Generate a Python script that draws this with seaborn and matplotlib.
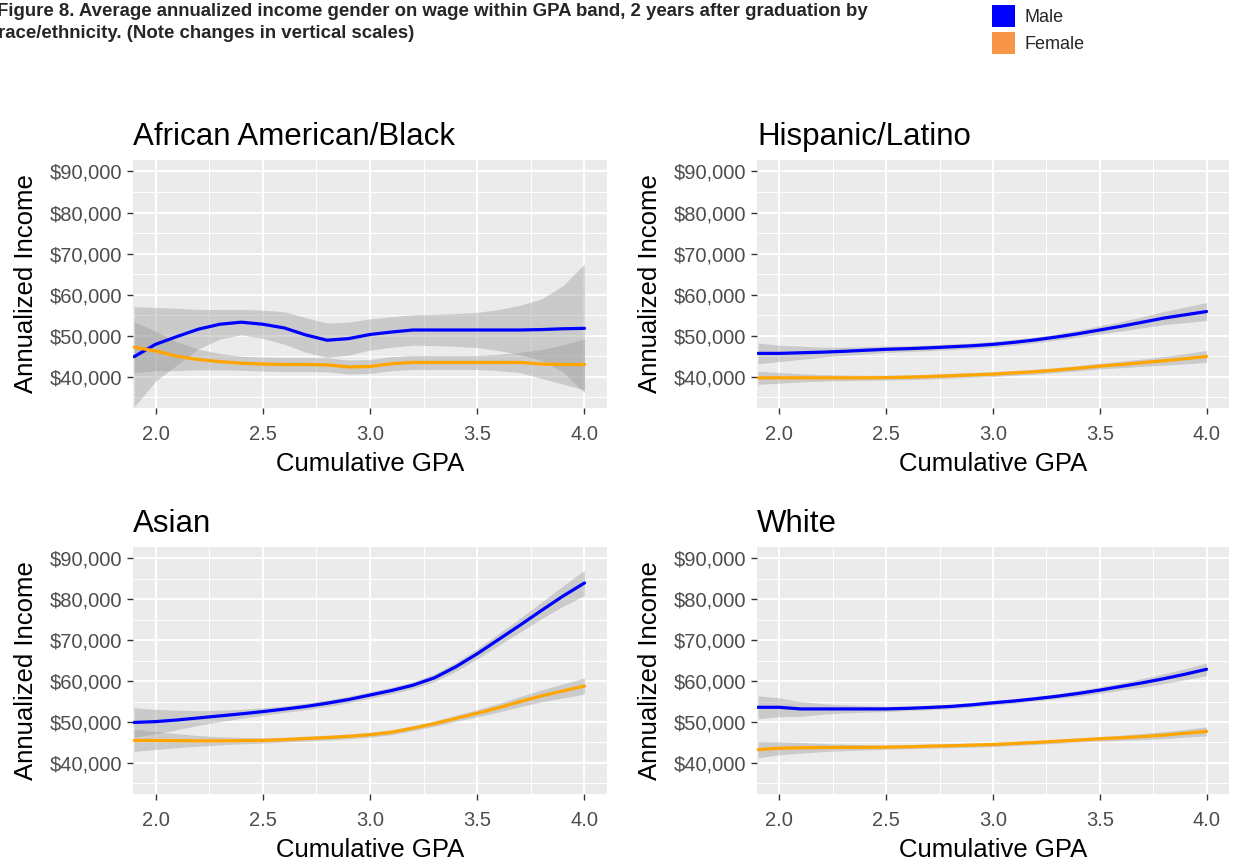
import numpy as np
import pandas as pd
import seaborn as sns
import matplotlib.pyplot as plt
from matplotlib.patches import Patch
from matplotlib.ticker import FuncFormatter, MultipleLocator

# data (smoothed fits + confidence band half-widths)
gpa = [1.9, 2.0, 2.1, 2.2, 2.3, 2.4, 2.5, 2.6, 2.7, 2.8, 2.9,
       3.0, 3.1, 3.2, 3.3, 3.4, 3.5, 3.6, 3.7, 3.8, 3.9, 4.0]

groups = ['African American/Black', 'Hispanic/Latino', 'Asian', 'White']

black_male = [44900, 47900, 49800, 51600, 52800, 53300, 52800, 51900, 50200, 48900, 49300,
              50300, 50900, 51400, 51400, 51400, 51400, 51400, 51400, 51500, 51700, 51800]
black_male_ci = [12200, 9000, 6900, 4800, 3600, 3100, 3450, 3950, 4200, 4200, 4000,
                 3800, 3700, 3700, 3800, 4000, 4300, 5000, 6000, 7500, 10500, 15700]
black_female = [47200, 46300, 45000, 44200, 43700, 43300, 43100, 43000, 43000, 42900, 42400,
                42500, 43200, 43500, 43500, 43500, 43500, 43500, 43500, 43100, 43000, 43000]
black_female_ci = [6200, 4800, 3500, 2500, 2000, 1700, 1700, 1700, 1700, 1700, 1700,
                   1700, 1700, 1700, 1700, 1700, 1700, 2000, 2500, 3500, 4800, 6200]

hisp_male = [45700, 45700, 45850, 46000, 46200, 46450, 46700, 46850, 47050, 47300, 47550,
             47900, 48400, 49000, 49700, 50500, 51400, 52300, 53300, 54300, 55100, 55900]
hisp_male_ci = [2500, 2000, 1600, 1200, 1000, 900, 800, 700, 700, 700, 700,
                700, 700, 700, 750, 850, 1000, 1150, 1350, 1600, 1900, 2200]
hisp_female = [39750, 39750, 39750, 39750, 39750, 39750, 39800, 39900, 40050, 40250, 40450,
               40650, 40950, 41250, 41650, 42100, 42600, 43000, 43450, 43900, 44400, 44950]
hisp_female_ci = [1600, 1300, 1000, 800, 700, 600, 600, 600, 600, 600, 600,
                  600, 600, 600, 600, 650, 700, 800, 900, 1050, 1250, 1450]

asian_male = [49900, 50100, 50500, 51000, 51500, 52000, 52550, 53150, 53800, 54600, 55500,
              56600, 57700, 59000, 60800, 63500, 66700, 70200, 73700, 77300, 80800, 84000]
asian_male_ci = [3600, 3000, 2400, 1800, 1400, 1100, 900, 800, 800, 800, 800,
                 800, 800, 850, 950, 1100, 1250, 1450, 1700, 2000, 2500, 3100]
asian_female = [45500, 45500, 45450, 45400, 45400, 45450, 45500, 45700, 45950, 46200, 46500,
                46900, 47500, 48500, 49600, 50900, 52150, 53500, 55000, 56400, 57600, 58800]
asian_female_ci = [2700, 2200, 1700, 1300, 1000, 800, 650, 600, 600, 600, 600,
                   600, 600, 600, 650, 750, 900, 1050, 1250, 1450, 1700, 2000]

white_male = [53600, 53600, 53200, 53200, 53200, 53200, 53200, 53350, 53550, 53800, 54200,
              54700, 55150, 55700, 56300, 57000, 57800, 58700, 59600, 60600, 61700, 62900]
white_male_ci = [2800, 2300, 1800, 1300, 1000, 800, 650, 550, 550, 550, 550,
                 550, 550, 550, 600, 700, 800, 900, 1050, 1200, 1350, 1550]
white_female = [43250, 43600, 43700, 43750, 43800, 43800, 43850, 43950, 44100, 44200, 44350,
                44500, 44750, 45000, 45300, 45600, 45900, 46150, 46450, 46800, 47250, 47700]
white_female_ci = [2000, 1600, 1300, 1000, 800, 650, 500, 500, 500, 500, 500,
                   500, 500, 500, 500, 500, 550, 650, 750, 850, 950, 1100]

series = {
    'African American/Black': (black_male, black_male_ci, black_female, black_female_ci),
    'Hispanic/Latino': (hisp_male, hisp_male_ci, hisp_female, hisp_female_ci),
    'Asian': (asian_male, asian_male_ci, asian_female, asian_female_ci),
    'White': (white_male, white_male_ci, white_female, white_female_ci),
}

line_colors = {'Male': '#0000FF', 'Female': '#FFA500'}
legend_colors = {'Male': '#0000FF', 'Female': '#F79646'}

#######
# style
#######
sns.set_theme(style='darkgrid', rc={'axes.facecolor': '#EBEBEB',
                                    'grid.color': 'white',
                                    'axes.edgecolor': '#EBEBEB'})
plt.rcParams['font.family'] = ['Liberation Sans', 'DejaVu Sans']

W, H = 1233, 865
fig = plt.figure(figsize=(W / 100, H / 100), dpi=100)

# panel boxes in pixels: left, top, right, bottom
boxes = {
    'African American/Black': (133, 160, 607, 408),
    'Hispanic/Latino': (757, 160, 1229, 408),
    'Asian': (133, 547, 607, 794),
    'White': (757, 547, 1229, 794),
}

money = FuncFormatter(lambda v, p: '${:,.0f}'.format(v))

for name in groups:
    l, t, r, b = boxes[name]
    ax = fig.add_axes([l / W, 1 - b / H, (r - l) / W, (b - t) / H])
    male, male_ci, female, female_ci = series[name]

    df = pd.DataFrame({
        'gpa': gpa * 2,
        'income': male + female,
        'gender': ['Male'] * len(gpa) + ['Female'] * len(gpa),
    })

    # confidence bands
    for vals, ci in [(male, male_ci), (female, female_ci)]:
        v = np.array(vals)
        c = np.array(ci)
        ax.fill_between(gpa, v - c, v + c, color='#999999', alpha=0.4,
                        lw=0, zorder=1)

    sns.lineplot(data=df, x='gpa', y='income', hue='gender', palette=line_colors,
                 linewidth=2.3, legend=False, ax=ax, zorder=3)

    ax.set_xlim(1.895, 4.105)
    ax.set_ylim(32400, 92800)
    ax.xaxis.set_major_locator(MultipleLocator(0.5))
    ax.xaxis.set_minor_locator(MultipleLocator(0.25))
    ax.yaxis.set_major_locator(MultipleLocator(10000))
    ax.yaxis.set_minor_locator(MultipleLocator(5000))
    ax.yaxis.set_major_formatter(money)
    ax.xaxis.set_major_formatter(FuncFormatter(lambda v, p: '{:.1f}'.format(v)))
    ax.grid(which='major', color='white', linewidth=1.4)
    ax.grid(which='minor', color='white', linewidth=0.7)
    for s in ax.spines.values():
        s.set_visible(False)
    ax.tick_params(which='major', bottom=True, left=True, length=4, width=1,
                   color='#333333', labelcolor='#4D4D4D', labelsize=14.5, pad=4)
    ax.tick_params(axis='x', which='major', pad=8)
    ax.tick_params(which='minor', length=0)

    ax.set_title(name, loc='left', fontsize=22.5, pad=11, color='black')
    ax.set_xlabel('Cumulative GPA', fontsize=18.5, labelpad=6, color='black')
    ax.set_ylabel('Annualized Income', fontsize=18.5, labelpad=8, color='black')

########
# header
########
fig.text(-3 / W, 1 - 11 / H,
         'Figure 8. Average annualized income gender on wage within GPA band, '
         '2 years after graduation by',
         fontsize=13.4, fontweight='bold', ha='left', va='center')
fig.text(-2 / W, 1 - 33 / H,
         'race/ethnicity. (Note changes in vertical scales)',
         fontsize=13.4, fontweight='bold', ha='left', va='center')

handles = [Patch(facecolor=legend_colors[g], edgecolor='none', label=g)
           for g in ['Male', 'Female']]
fig.legend(handles=handles, loc='upper left', bbox_to_anchor=(992 / W, 1 - 5 / H),
           frameon=False, fontsize=13, handlelength=1.25, handleheight=1.5,
           handletextpad=0.55, labelspacing=0.3, borderpad=0, borderaxespad=0)

fig.savefig('out.png', dpi=100)
